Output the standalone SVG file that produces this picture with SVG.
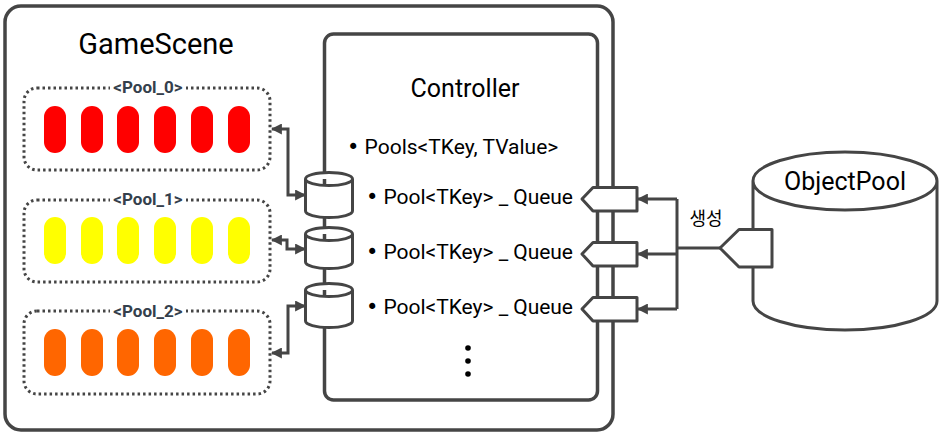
<svg xmlns="http://www.w3.org/2000/svg" width="944" height="436" viewBox="0 0 944 436">
<style>
.frame{fill:#fff;stroke:#454545;stroke-width:3.5}
.dot{fill:none;stroke:#454545;stroke-width:3;stroke-dasharray:2.5 3}
.shape{fill:#fff;stroke:#454545;stroke-width:3;stroke-linejoin:round}
.line{fill:none;stroke:#454545;stroke-width:3}
.t{font-family:Roboto,"Noto Sans CJK KR",sans-serif;fill:#000}
.b{font-family:"DejaVu Sans",sans-serif}
.lbl{font-family:Roboto,"Noto Sans CJK KR",sans-serif;font-weight:bold;font-size:17px;fill:#34404c;text-anchor:middle}
.red{fill:#ff0000}.yel{fill:#ffff00}.org{fill:#ff6600}
</style>
<defs>
<marker id="ah" viewBox="0 0 10 10" refX="9" refY="5" markerWidth="11" markerHeight="11" markerUnits="userSpaceOnUse" orient="auto-start-reverse">
<path d="M0,0 L10,5 L0,10 z" fill="#454545"/>
</marker>
<rect id="cap" width="22" height="47" rx="11"/>
</defs>
<rect width="944" height="436" fill="#fff"/>

<g id="gamescene">
<rect class="frame" x="5" y="6" width="608" height="424" rx="16"/>
<text class="t" x="156" y="54" font-size="29" text-anchor="middle">GameScene</text>
</g>

<g id="controller">
<rect class="frame" x="324.5" y="34" width="273" height="366" rx="9"/>
<text class="t" x="465" y="97" font-size="25" text-anchor="middle">Controller</text>
<text class="t" x="347" y="154" font-size="21"><tspan class="b">•</tspan> Pools&lt;TKey, TValue&gt;</text>
<text class="t" x="366" y="204" font-size="21" textLength="207" lengthAdjust="spacing"><tspan class="b">•</tspan> Pool&lt;TKey&gt; _ Queue</text>
<text class="t" x="366" y="259" font-size="21" textLength="207" lengthAdjust="spacing"><tspan class="b">•</tspan> Pool&lt;TKey&gt; _ Queue</text>
<text class="t" x="366" y="314" font-size="21" textLength="207" lengthAdjust="spacing"><tspan class="b">•</tspan> Pool&lt;TKey&gt; _ Queue</text>
<circle cx="468" cy="348" r="2.8"/>
<circle cx="468" cy="361" r="2.8"/>
<circle cx="468" cy="374" r="2.8"/>
</g>

<g id="pool0">
<rect class="dot" x="24" y="88" width="246" height="82" rx="13"/>
<rect x="110" y="80" width="76" height="14" fill="#fff"/>
<text class="lbl" x="148" y="93">&lt;Pool_0&gt;</text>
<g class="red">
<use href="#cap" x="44" y="106"/><use href="#cap" x="81" y="106"/><use href="#cap" x="117" y="106"/><use href="#cap" x="154" y="106"/><use href="#cap" x="191" y="106"/><use href="#cap" x="228" y="106"/>
</g>
</g>

<g id="pool1">
<rect class="dot" x="24" y="200" width="246" height="82" rx="13"/>
<rect x="110" y="192" width="76" height="14" fill="#fff"/>
<text class="lbl" x="148" y="205">&lt;Pool_1&gt;</text>
<g class="yel">
<use href="#cap" x="44" y="217"/><use href="#cap" x="81" y="217"/><use href="#cap" x="117" y="217"/><use href="#cap" x="154" y="217"/><use href="#cap" x="191" y="217"/><use href="#cap" x="228" y="217"/>
</g>
</g>

<g id="pool2">
<rect class="dot" x="24" y="311" width="246" height="83" rx="13"/>
<rect x="110" y="303" width="76" height="14" fill="#fff"/>
<text class="lbl" x="148" y="317">&lt;Pool_2&gt;</text>
<g class="org">
<use href="#cap" x="44" y="329"/><use href="#cap" x="81" y="329"/><use href="#cap" x="117" y="329"/><use href="#cap" x="154" y="329"/><use href="#cap" x="191" y="329"/><use href="#cap" x="228" y="329"/>
</g>
</g>

<g id="connectors">
<path class="line" d="M272,129 H288 V195 H305" marker-start="url(#ah)" marker-end="url(#ah)"/>
<path class="line" d="M272,240 H287 V249 H305" marker-start="url(#ah)" marker-end="url(#ah)"/>
<path class="line" d="M272,353 H288 V306 H305" marker-start="url(#ah)" marker-end="url(#ah)"/>
<path class="line" d="M677,199 V309"/>
<path class="line" d="M677,199 H638" marker-end="url(#ah)"/>
<path class="line" d="M677,254 H638" marker-end="url(#ah)"/>
<path class="line" d="M677,309 H638" marker-end="url(#ah)"/>
<path class="line" d="M677,248 H720"/>
</g>

<g id="queue0">
<path class="shape" d="M305.5,179 a23.5,6.5 0 0 1 47,0 v32 a23.5,6.5 0 0 1 -47,0 z M305.5,179 a23.5,6.5 0 0 0 47,0"/>
</g>
<g id="queue1">
<path class="shape" d="M305.5,234 a23.5,6.5 0 0 1 47,0 v28 a23.5,6.5 0 0 1 -47,0 z M305.5,234 a23.5,6.5 0 0 0 47,0"/>
</g>
<g id="queue2">
<path class="shape" d="M305.5,290 a23.5,6.5 0 0 1 47,0 v31 a23.5,6.5 0 0 1 -47,0 z M305.5,290 a23.5,6.5 0 0 0 47,0"/>
</g>

<g id="port0"><path class="shape" d="M582,199 L593,187.5 H637 V211 H593 Z"/></g>
<g id="port1"><path class="shape" d="M582,254 L593,242.5 H637 V266 H593 Z"/></g>
<g id="port2"><path class="shape" d="M582,309 L593,297.5 H637 V321 H593 Z"/></g>

<g id="objectpool">
<path class="shape" d="M753,181 A92,29 0 0 1 937,181 V301 A92,29 0 0 1 753,301 Z M753,181 A92,29 0 0 0 937,181"/>
<text class="t" x="845" y="190" font-size="25" text-anchor="middle">ObjectPool</text>
<path class="shape" d="M720,248 L739,229.5 H772 V267 H739 Z"/>
</g>

<text class="t" x="706" y="225" font-size="18" text-anchor="middle">생성</text>
</svg>
